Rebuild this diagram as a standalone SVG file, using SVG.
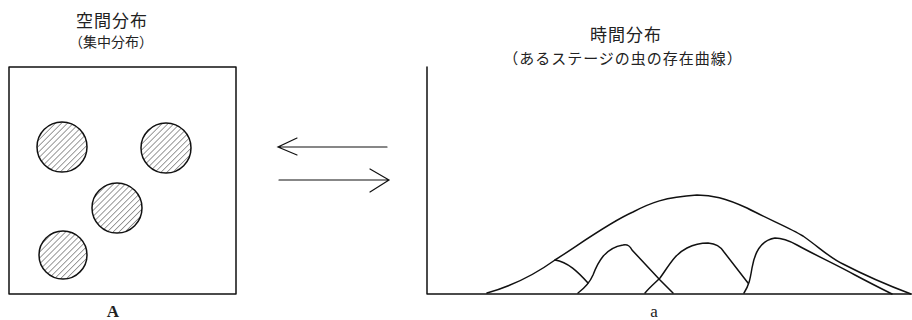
<svg xmlns="http://www.w3.org/2000/svg" width="912" height="320" viewBox="0 0 912 320">
<style>
.t{font-family:"Noto Sans CJK JP","Liberation Serif",serif;fill:#222;text-anchor:middle}
.l{font-family:"Liberation Serif",serif;fill:#222;text-anchor:middle}
.s{fill:none;stroke:#111;stroke-width:1.5;stroke-linejoin:round;stroke-linecap:round}
.a{fill:none;stroke:#111;stroke-width:1.2;stroke-linecap:round}
.c{fill:url(#h);stroke:#111;stroke-width:1.5}
</style>
<defs>
<pattern id="h" patternUnits="userSpaceOnUse" width="4.2" height="4.2" patternTransform="rotate(45)">
<line x1="0" y1="0" x2="0" y2="4.2" stroke="#222" stroke-width="0.9"/>
</pattern>
</defs>
<g id="spatial">
<text class="t" x="112" y="27" font-size="17" letter-spacing="1">空間分布</text>
<text class="t" x="111" y="47" font-size="14">（集中分布）</text>
<rect class="s" x="9" y="67" width="227" height="227"/>
<circle class="c" cx="62" cy="147" r="25"/>
<circle class="c" cx="166" cy="148" r="25"/>
<circle class="c" cx="117" cy="208" r="25"/>
<circle class="c" cx="63" cy="255" r="24"/>
<text class="l" x="113" y="317" font-size="17" font-weight="bold">A</text>
</g>
<g id="connectors">
<path class="a" d="M387 147H278M297 138L278 147L297 155"/>
<path class="a" d="M279 180H389M370 169L389 180L370 192"/>
</g>
<g id="temporal">
<text class="t" x="626" y="41" font-size="17" letter-spacing="1">時間分布</text>
<text class="t" x="623" y="64" font-size="15" letter-spacing="1">（あるステージの虫の存在曲線）</text>
<path class="s" d="M427 67V294H911"/>
<path class="s" d="M487 293C505 288 530 278 555 260C580 244 610 222 633 212C650 203 665 197 697 195C712 195 725 198 747 208C770 220 790 228 803 236C820 248 830 258 843 264C870 278 895 288 911 294"/>
<path class="s" d="M555 260C568 262 578 272 588 283"/>
<path class="s" d="M578 293C586 287 590 282 593 275C598 262 605 248 623 245C628 244 630 246 632 250L660 280L673 293"/>
<path class="s" d="M645 293C650 287 655 283 660 278C670 264 675 254 687 248C695 244 700 243 708 243C716 244 720 246 724 252L748 283"/>
<path class="s" d="M744 293C749 285 750 280 752 268C755 250 762 240 775 238C782 238 788 240 797 245C815 255 835 264 855 275C870 283 882 289 892 294"/>
<text class="l" x="654" y="317" font-size="17">a</text>
</g>
</svg>
